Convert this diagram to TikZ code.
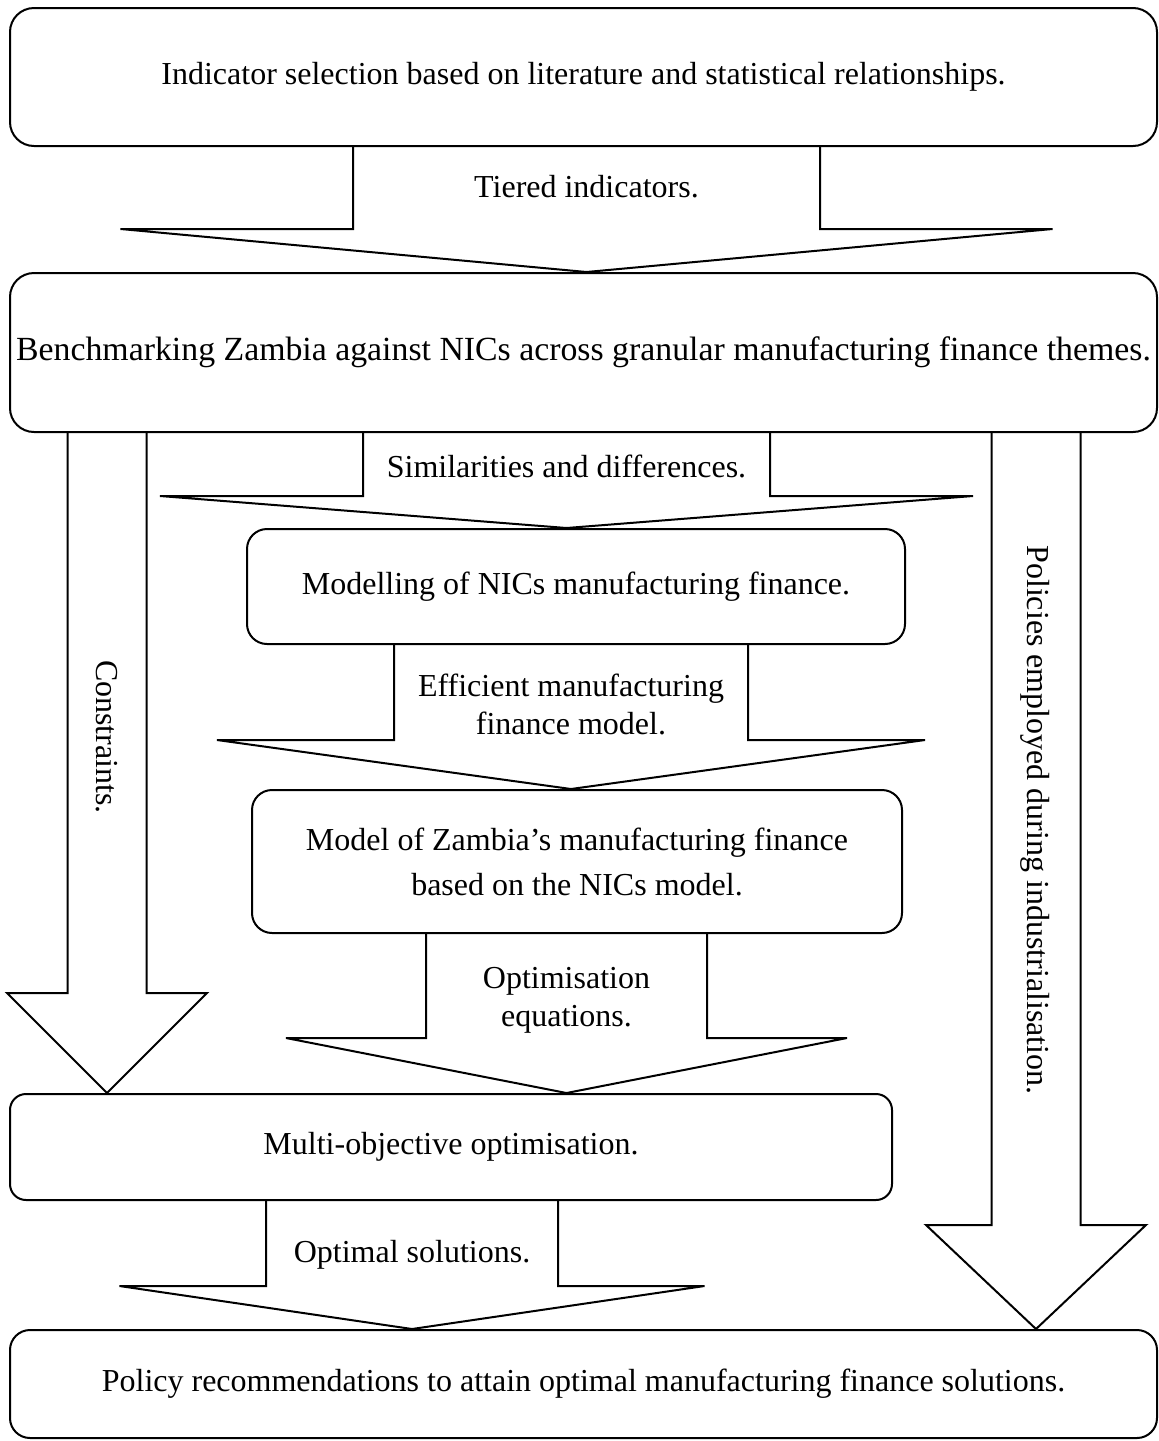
\documentclass[tikz,border=0pt]{standalone}
\usepackage{fontspec}
\setmainfont{Liberation Serif}
\tikzset{
  stage/.style = {draw, line width=1pt, rounded corners=10pt, inner sep=0pt, align=center,
    font=\fontsize{16pt}{22.5pt}\selectfont},
  flowlabel/.style = {inner sep=0pt, align=center, font=\fontsize{16pt}{19pt}\selectfont},
  fat/.style = {line width=1pt, line join=miter}
}
% #1 from, #2 to, #3 axis x, #4 half stem, #5 half head, #6 head y
\newcommand{\fatarrow}[6]{%
  \draw[fat] ({#3-#4},0 |- #1.south) -- ({#3-#4},#6) -- ({#3-#5},#6) -- (#3,0 |- #2.north)
    -- ({#3+#5},#6) -- ({#3+#4},#6) -- ({#3+#4},0 |- #1.south);
}
\begin{document}
\begin{tikzpicture}[x=0.5pt, y=-0.5pt]
	\useasboundingbox (0,0) rectangle (1159,1441);
	\node[stage, minimum width=573.5pt, minimum height=69pt, rounded corners=12pt] (ind) at (583.5,77) {Indicator selection based on literature and statistical relationships.};
	\node[stage, minimum width=573.5pt, minimum height=79.5pt, rounded corners=12pt, font=\fontsize{16.9pt}{20pt}\selectfont] (bench) at (583.5,352.5) {Benchmarking Zambia against NICs across granular manufacturing finance themes.};
	\node[stage, minimum width=329pt, minimum height=57.5pt] (nics) at (576,586.5) {Modelling of NICs manufacturing finance.};
	\node[stage, minimum width=325pt, minimum height=71.5pt] (zam) at (577,861.5) {Model of Zambia’s manufacturing finance\\based on the NICs model.};
	\node[stage, minimum width=441pt, minimum height=53pt, rounded corners=8pt] (moo) at (451,1147) {Multi-objective optimisation.};
	\node[stage, minimum width=573.5pt, minimum height=54pt] (pol) at (583.5,1384) {Policy recommendations to attain optimal manufacturing finance solutions.};

	\fatarrow{ind}{bench}{586.5}{233.5}{466}{229}
	\fatarrow{bench}{nics}{566.5}{203.5}{406.5}{496}
	\fatarrow{nics}{zam}{571}{177}{354}{740}
	\fatarrow{zam}{moo}{566.5}{140.5}{280.5}{1038}
	\fatarrow{moo}{pol}{412}{146}{292.5}{1286}
	\fatarrow{bench}{moo}{107}{39.5}{100}{993}
	\fatarrow{bench}{pol}{1036}{44.5}{110}{1225}

	\node[flowlabel] (tiered) at (586.5,187) {Tiered indicators.};
	\node[flowlabel] (simdiff) at (566.5,466) {Similarities and differences.};
	\node[flowlabel] (effmodel) at (571,704) {Efficient manufacturing\\finance model.};
	\node[flowlabel] (opteq) at (566.5,1000) {Optimisation\\equations.};
	\node[flowlabel] (optsol) at (412,1255) {Optimal solutions.};
	\node[flowlabel, rotate=-90] (constr) at (106.5,737) {Constraints.};
	\node[flowlabel, rotate=-90] (policies) at (1035.5,820) {Policies employed during industrialisation.};
\end{tikzpicture}
\end{document}
